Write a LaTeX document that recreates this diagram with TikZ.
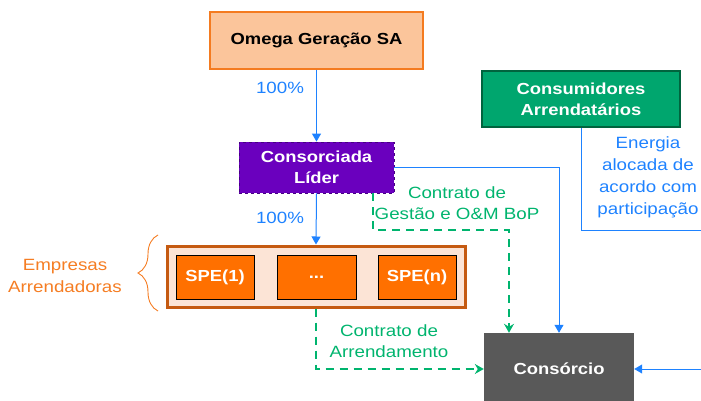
\documentclass[tikz,border=0pt]{standalone}
\usepackage{fontspec}
\setmainfont{Liberation Sans}[FakeStretch=1.15]
\usetikzlibrary{arrows.meta,decorations.pathreplacing}
\definecolor{peach}{RGB}{251,197,155}
\definecolor{peachline}{RGB}{244,123,32}
\definecolor{cgreen}{RGB}{0,166,110}
\definecolor{cgreenline}{RGB}{0,100,62}
\definecolor{lpurple}{RGB}{106,0,190}
\definecolor{lpurpleline}{RGB}{70,0,130}
\definecolor{outerfill}{RGB}{252,228,214}
\definecolor{outerline}{RGB}{197,90,17}
\definecolor{speorange}{RGB}{255,112,0}
\definecolor{cgray}{RGB}{89,89,89}
\definecolor{cblue}{RGB}{30,130,255}
\definecolor{tgreen}{RGB}{0,180,110}
\definecolor{torange}{RGB}{245,125,35}
\tikzset{
  basebox/.style={rectangle, inner sep=0pt, align=center, font=\fontsize{16}{21}\selectfont\bfseries},
  bluearrow/.style={draw=cblue, line width=1pt, -{Triangle[length=8pt,width=9pt]}},
  blueline/.style={draw=cblue, line width=1pt},
  greendash/.style={draw=tgreen, line width=2.6pt, dash pattern=on 8pt off 6pt, -{Stealth[length=9pt,width=10pt,inset=3pt]}},
  bluetext/.style={text=cblue, align=center, font=\fontsize{16.3}{22}\selectfont},
  greentext/.style={text=tgreen, align=center, font=\fontsize{16.3}{21}\selectfont},
}
\begin{document}
\begin{tikzpicture}[x=1pt,y=-1pt]
\useasboundingbox (0,0) rectangle (701,401);
% boxes
\node[basebox, fill=peach, draw=peachline, line width=1.2pt, minimum width=213pt, minimum height=57pt] (omega) at (316.5,40.5) {Omega Geração SA};
\node[basebox, fill=cgreen, draw=cgreenline, line width=2.5pt, text=white, minimum width=198pt, minimum height=56pt] (cons) at (581,99) {Consumidores\\Arrendatários};
\node[basebox, fill=lpurple, draw=lpurpleline, line width=0.8pt, dashed, text=white, minimum width=155pt, minimum height=51pt] (lider) at (316.5,167.5) {Consorciada\\Líder};
\node[rectangle, fill=outerfill, draw=outerline, line width=3pt, minimum width=298pt, minimum height=61pt] (outer) at (316,276.5) {};
\node[basebox, fill=speorange, draw=black, line width=0.6pt, text=white, minimum width=78pt, minimum height=44pt] (spe1) at (215,277) {SPE(1)};
\node[basebox, fill=speorange, draw=black, line width=0.6pt, text=white, minimum width=79pt, minimum height=44pt] (dots) at (316.5,277) {...};
\node[basebox, fill=speorange, draw=black, line width=0.6pt, text=white, minimum width=78pt, minimum height=44pt] (spen) at (417,277) {SPE(n)};
\node[basebox, fill=cgray, text=white, minimum width=150pt, minimum height=72pt] (consorcio) at (559,369) {Consórcio};
% labels
\node[bluetext] (p1) at (280,88) {100\%};
\node[bluetext] (p2) at (280,218) {100\%};
\node[bluetext] (energia) at (648,177) {Energia\\alocada de\\acordo com\\participação};
\node[greentext] (gestao) at (457,203) {Contrato de\\Gestão e O\&M BoP};
\node[greentext] (arrend) at (389,341) {Contrato de\\Arrendamento};
\node[text=torange, align=center, font=\fontsize{16.3}{22}\selectfont] (empresas) at (65,276) {Empresas\\Arrendadoras};
% brace
\draw[draw=torange, line width=0.9pt, decorate, decoration={brace, amplitude=20pt}] (158,311) -- (158,235);
% connectors
\draw[bluearrow] (omega.south) -- (lider.north);
\draw[bluearrow] (lider.south) -- (outer.north);
\draw[bluearrow] (lider.east) -| (consorcio.north);
\coordinate (eright) at (701,230);
\draw[blueline] (cons.south) |- (eright);
\coordinate (cright) at (701,369);
\draw[bluearrow] (cright) -- (consorcio.east);
\coordinate (g1) at (373,230);
\coordinate (g2) at (509,230);
\draw[greendash] (lider.south -| g1) -- (g1) -- (g2) -- (g2 |- consorcio.north);
\draw[greendash] (outer.south) |- (consorcio.west);
\end{tikzpicture}
\end{document}
